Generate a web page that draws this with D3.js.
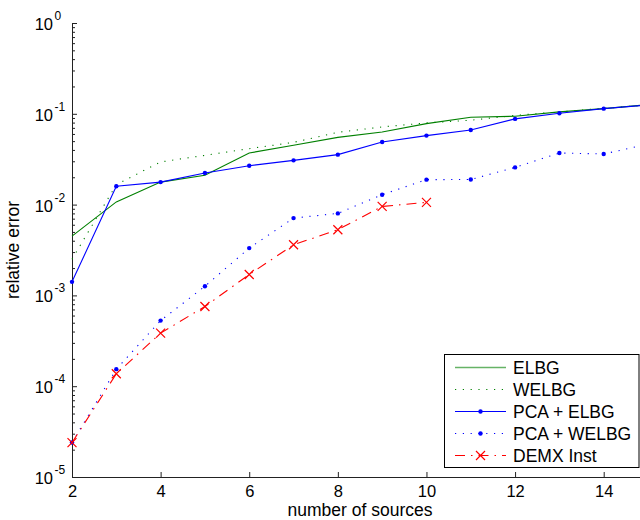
<!DOCTYPE html>
<html>
<head>
<meta charset="utf-8">
<script src="https://cdn.jsdelivr.net/npm/d3@7"></script>
<style>
  html, body { margin: 0; padding: 0; background: #fff; }
  svg { display: block; font-family: "Liberation Sans", Arial, sans-serif; }
</style>
</head>
<body>
<svg id="chart" width="640" height="520"></svg>
<script>
// ---- data ----
const sources = [2, 3, 4, 5, 6, 7, 8, 9, 10, 11, 12, 13, 14, 15];
const elbg     = [4.5e-3, 0.0107, 0.0177, 0.021, 0.037, 0.045, 0.055, 0.063, 0.078, 0.0917, 0.094, 0.105, 0.114, 0.126];
const welbg    = [2.5e-3, 0.0166, 0.0295, 0.0349, 0.0413, 0.0485, 0.0625, 0.0717, 0.0794, 0.085, 0.096, 0.105, 0.115, 0.125];
const pcaElbg  = [1.41e-3, 0.0159, 0.0177, 0.0223, 0.0268, 0.0307, 0.0355, 0.049, 0.0575, 0.0664, 0.0879, 0.1014, 0.114, 0.125];
const pcaWelbg = [2.4e-5, 1.54e-4, 5.28e-4, 1.26e-3, 3.32e-3, 7.1e-3, 8.0e-3, 0.01286, 0.01883, 0.0189, 0.0257, 0.037, 0.0361, 0.0463];
const demxSources = [2, 3, 4, 5, 6, 7, 8, 9, 10];
const demx     = [2.39e-5, 1.37e-4, 3.84e-4, 7.55e-4, 1.70e-3, 3.61e-3, 5.29e-3, 9.55e-3, 0.01057];
const seriesNames = ["ELBG", "WELBG", "PCA + ELBG", "PCA + WELBG", "DEMX Inst"];
const xTicks = [2, 4, 6, 8, 10, 12, 14];
const yExponents = [0, -1, -2, -3, -4, -5];
const xLabel = "number of sources";
const yLabel = "relative error";

(function () {
// ---- layout ----
const svg = d3.select("#chart");
const mLeft = 72, mRight = 648, mTop = 23, mBottom = 477;
const x = d3.scaleLinear().domain([2, 15]).range([mLeft, mRight]);
const y = d3.scaleLog().domain([1e-5, 1]).range([mBottom, mTop]);
const font = "17.5px";
const tickFont = "16.5px";

const styles = [
  { color: "#008000", dash: null, marker: null, width: 1.1 },
  { color: "#008000", dash: "1.2,6.6", marker: null, width: 1.1 },
  { color: "#0000ff", dash: null, marker: "dot", width: 1.1 },
  { color: "#0000ff", dash: "1.2,6.6", marker: "dot", width: 1.1 },
  { color: "#ff0000", dash: "10,6,1.5,6", marker: "x", width: 1.1 }
];
const seriesData = [
  sources.map((s, i) => [s, elbg[i]]),
  sources.map((s, i) => [s, welbg[i]]),
  sources.map((s, i) => [s, pcaElbg[i]]),
  sources.map((s, i) => [s, pcaWelbg[i]]),
  demxSources.map((s, i) => [s, demx[i]])
];

const line = d3.line().x(d => x(d[0])).y(d => y(d[1]));

// ---- axes ----
const majors = yExponents.map(e => Math.pow(10, e));
const minors = [];
for (let e = -5; e < 0; e++) for (let k = 2; k <= 9; k++) minors.push(k * Math.pow(10, e));

svg.append("g").attr("transform", `translate(${mLeft},0)`)
  .call(d3.axisLeft(y).tickValues(majors).tickSize(-5).tickSizeOuter(0).tickFormat(""));
svg.append("g").attr("transform", `translate(${mLeft},0)`)
  .call(d3.axisLeft(y).tickValues(minors).tickSize(-3).tickFormat(""))
  .call(g => g.select(".domain").remove());

const xAxis = svg.append("g").attr("transform", `translate(0,${mBottom})`)
  .call(d3.axisBottom(x).tickValues(xTicks).tickSize(-5).tickPadding(8.5).tickSizeOuter(0));
xAxis.selectAll("text").attr("font-size", tickFont).attr("font-family", "Liberation Sans, Arial, sans-serif").attr("fill", "#000");
svg.selectAll(".domain, .tick line").attr("stroke", "#222");

// y tick labels with superscripts
yExponents.forEach(e => {
  const yy = y(Math.pow(10, e));
  svg.append("text")
    .attr("x", 53).attr("y", yy + 7).attr("text-anchor", "end")
    .attr("font-size", tickFont).attr("fill", "#000").text("10");
  svg.append("text")
    .attr("x", 54.5).attr("y", yy - 3)
    .attr("font-size", "12px").attr("fill", "#000")
    .text(e === 0 ? "0" : "-" + Math.abs(e));
});

// axis labels
svg.append("text").attr("x", (mLeft + mRight) / 2).attr("y", 516)
  .attr("text-anchor", "middle").attr("font-size", font).text(xLabel);
svg.append("text").attr("transform", `translate(19,${(mTop + mBottom) / 2}) rotate(-90)`)
  .attr("text-anchor", "middle").attr("font-size", font).text(yLabel);

// ---- lines ----
const plot = svg.append("g");
function drawMarker(g, type, cx, cy, color) {
  if (type === "dot") {
    g.append("circle").attr("cx", cx).attr("cy", cy).attr("r", 2.2).attr("fill", color);
  } else if (type === "x") {
    const s = 4.5;
    g.append("path").attr("d", `M${cx - s},${cy - s}L${cx + s},${cy + s}M${cx - s},${cy + s}L${cx + s},${cy - s}`)
      .attr("stroke", color).attr("stroke-width", 1.2).attr("fill", "none");
  }
}
seriesData.forEach((data, i) => {
  const st = styles[i];
  plot.append("path").datum(data).attr("d", line)
    .attr("fill", "none").attr("stroke", st.color).attr("stroke-width", st.width)
    .attr("stroke-dasharray", st.dash);
  if (st.marker) data.forEach(d => drawMarker(plot, st.marker, x(d[0]), y(d[1]), st.color));
});

// ---- legend ----
const lg = svg.append("g");
lg.append("rect").attr("x", 444.5).attr("y", 354.5).attr("width", 194.5).attr("height", 113)
  .attr("fill", "#fff").attr("stroke", "#000").attr("stroke-width", 1);
seriesNames.forEach((name, i) => {
  const st = styles[i];
  const ry = 367.5 + i * 22;
  lg.append("line").attr("x1", 455).attr("x2", 506).attr("y1", ry).attr("y2", ry)
    .attr("stroke", st.color).attr("stroke-width", i === 0 ? 1.6 : st.width)
    .attr("stroke-opacity", i === 0 ? 0.6 : 1)
    .attr("stroke-dasharray", st.dash);
  if (st.marker) drawMarker(lg, st.marker, 480.5, ry, st.color);
  lg.append("text").attr("x", 513).attr("y", ry).attr("dy", "0.36em")
    .attr("font-size", font).attr("fill", "#000").text(name);
});
})();
</script>
</body>
</html>
